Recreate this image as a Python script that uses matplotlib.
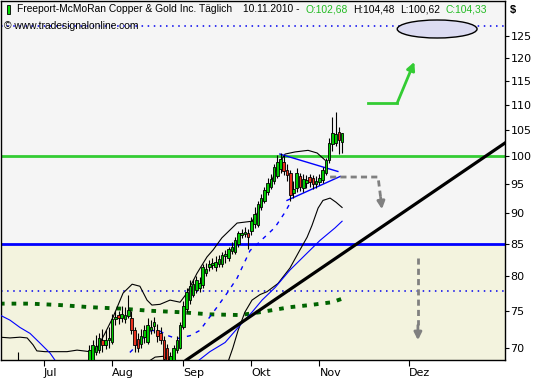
import numpy as np
import matplotlib
matplotlib.use("Agg")
import matplotlib.pyplot as plt
import matplotlib.patches as patches

# ==================== DATA (bar index 0 = 01.07.2010) ====================
bar_idx = list(range(-13, 93))
opens = [64.0, 64.6, 65.3, 64.8, 65.7, 66.6, 67.5, 65.4, 63.5, 62.0, 60.8, 59.5, 59.3,
         58.4, 59.1, 58.9, 61.3, 62.5, 63.6, 63.3, 65.2, 64.6, 62.6, 63.0, 63.8, 64.8, 66.8,
         67.6, 67.5, 69.5, 69.7, 71.0, 70.4, 71.0, 70.8, 73.8, 74.4, 74.0, 73.8, 74.3, 74.0,
         72.3, 71.2, 70.5, 71.4, 70.8, 72.4, 72.9, 72.3, 71.9, 71.0, 70.0, 68.2, 68.0, 69.7,
         70.0, 72.8, 75.3, 76.5, 77.3, 78.0, 78.3, 78.7, 80.5, 81.3, 81.6, 81.4, 81.8, 81.8,
         83.0, 82.8, 83.9, 83.7, 85.0, 86.3, 86.5, 86.7, 87.0, 88.2, 88.0, 91.0, 92.0, 93.5,
         94.5, 95.5, 96.3, 97.7, 99.0, 97.4, 97.0, 93.3, 94.3, 96.3, 94.3, 95.2, 96.2, 96.0,
         95.0, 95.3, 95.6, 96.9, 99.3, 102.3, 102.5, 104.6, 102.68]
highs = [65.2, 66.0, 66.4, 66.1, 67.4, 69.4, 68.0, 66.0, 64.2, 62.9, 61.5, 60.3, 60.0,
         59.6, 60.2, 61.5, 63.0, 64.2, 64.4, 65.8, 66.4, 65.1, 63.8, 64.6, 65.0, 67.2, 68.2,
         70.4, 71.0, 71.7, 72.0, 72.5, 72.3, 72.8, 74.5, 75.0, 75.0, 75.6, 75.5, 77.3, 75.0,
         72.8, 72.0, 72.5, 73.0, 74.0, 73.7, 74.2, 73.2, 72.7, 71.5, 70.5, 69.5, 70.4, 71.5,
         73.5, 76.4, 78.3, 79.4, 79.5, 80.0, 79.8, 81.8, 82.0, 82.5, 82.8, 83.0, 83.2, 83.7,
         84.0, 84.5, 85.3, 86.0, 87.0, 87.3, 87.6, 87.3, 89.3, 91.0, 92.0, 93.2, 94.5, 96.0,
         96.8, 98.6, 100.3, 100.6, 100.2, 98.5, 97.4, 95.5, 97.8, 97.0, 96.8, 96.5, 96.8, 96.5,
         96.3, 96.8, 98.0, 99.6, 103.5, 107.6, 108.5, 105.5, 104.48]
lows = [63.1, 63.8, 64.2, 63.9, 65.0, 66.0, 65.2, 63.0, 61.8, 60.1, 58.9, 57.6, 57.0,
        57.3, 57.8, 58.4, 60.8, 62.0, 62.5, 63.0, 64.3, 62.0, 61.5, 62.4, 62.9, 64.3, 66.2,
        67.0, 67.0, 69.1, 69.3, 69.5, 69.8, 70.0, 70.5, 73.0, 73.2, 73.4, 73.3, 74.0, 71.8,
        69.5, 69.4, 70.0, 70.6, 70.5, 71.8, 72.0, 70.8, 70.5, 68.0, 67.5, 67.4, 67.5, 69.3,
        69.8, 72.5, 74.8, 76.0, 77.0, 77.5, 77.6, 78.3, 80.0, 80.8, 81.0, 80.8, 81.3, 81.3,
        82.0, 82.3, 83.3, 83.4, 84.5, 85.8, 86.0, 84.2, 86.3, 87.5, 87.6, 90.5, 91.6, 93.0,
        94.0, 95.0, 96.0, 97.0, 96.5, 95.5, 92.0, 92.5, 93.5, 93.8, 93.5, 94.2, 94.5, 94.0,
        94.2, 94.8, 95.2, 96.5, 98.8, 101.0, 102.0, 100.5, 100.62]
closes = [64.6, 65.5, 64.9, 65.8, 66.8, 67.9, 65.6, 63.4, 62.3, 60.6, 59.4, 59.1, 58.2,
          59.0, 58.6, 61.2, 62.7, 63.9, 63.1, 65.4, 64.8, 62.4, 63.2, 64.1, 64.6, 66.9, 67.9,
          69.7, 70.4, 70.2, 71.3, 70.4, 71.0, 71.3, 73.8, 74.2, 74.0, 74.6, 74.4, 75.1, 72.3,
          70.4, 70.0, 71.6, 72.4, 73.0, 72.8, 73.4, 71.5, 71.0, 68.6, 68.0, 68.9, 70.0, 71.0,
          73.0, 75.6, 77.7, 78.6, 78.8, 79.4, 79.0, 81.3, 81.0, 81.8, 82.0, 82.2, 82.6, 83.2,
          83.3, 84.1, 84.5, 85.5, 86.6, 86.6, 86.8, 86.1, 88.7, 89.8, 91.5, 92.6, 93.9, 95.2,
          95.8, 98.0, 98.9, 99.5, 97.2, 96.5, 93.0, 94.0, 97.0, 94.5, 95.8, 95.7, 95.4, 95.0,
          95.5, 96.0, 97.4, 99.3, 102.5, 104.4, 104.3, 103.0, 104.33]

# indicators: (bar index, price)
upper_band_x = [-13.6, -10.5, -7.4, -5.2, -3.4, -2.2, 0.3, 7.1, 10.2, 14.2, 16.4, 18.8, 21.3,
                24.4, 27.2, 29.6, 31.8, 33.3, 35.8, 38.9, 42.0, 44.1, 47.2, 50.3, 52.2, 54.9,
                59.6, 64.2, 66.0, 69.1, 72.2, 74.4, 77.5, 81.5, 84.3, 86.7]
upper_band_y = [71.4, 71.3, 71.4, 71.3, 70.4, 69.6, 69.5, 69.5, 69.7, 69.5, 70.0, 71.9, 74.1,
                77.5, 78.8, 78.5, 76.5, 75.8, 75.9, 76.5, 76.2, 77.5, 80.4, 82.9, 84.0, 85.9,
                88.3, 88.6, 90.1, 93.9, 98.3, 100.4, 100.8, 101.1, 100.6, 99.3]
lower_band1_x = [31.0, 32.1, 34.3, 36.7, 39.5, 40.5]
lower_band1_y = [67.5, 68.2, 68.8, 68.9, 68.3, 67.8]
lower_band2_x = [56.3, 58.3, 59.9, 62.0, 64.2, 66.7, 68.8, 72.2, 75.9, 79.0, 81.2, 82.7,
                 84.6, 86.1, 88.3, 90.1, 92.0]
lower_band2_y = [67.6, 70.0, 72.3, 74.8, 76.5, 77.3, 77.7, 78.9, 81.2, 84.0, 86.0, 87.9,
                 90.8, 92.1, 92.5, 91.8, 90.9]
ma_blue1_x = [-13.6, -10.5, -7.4, -4.3, -1.2, 1.9, 3.4, 4.9]
ma_blue1_y = [74.4, 73.7, 72.7, 71.9, 70.6, 69.3, 68.4, 67.4]
ma_blue2_x = [46.6, 47.2, 51.2, 55.9, 60.5, 64.2, 67.3, 71.3, 75.9, 80.6, 85.2, 89.8, 92.0]
ma_blue2_y = [67.8, 68.2, 69.5, 70.7, 73.0, 74.8, 76.5, 78.3, 80.9, 83.2, 85.5, 87.5, 88.6]
dash_blue_x = [26.5, 33.3, 35.8, 38.3, 41.0, 45.1, 48.1, 53.4, 56.5, 59.6, 63.6, 66.0,
               71.3, 74.4, 75.9]
dash_blue_y = [69.4, 72.3, 72.2, 71.6, 71.2, 71.6, 72.3, 75.5, 77.5, 79.7, 83.9, 85.0,
               87.6, 90.1, 91.6]
ma_green_x = [-13.6, -4.3, 4.9, 14.2, 23.5, 32.7, 42.0, 51.2, 60.5, 66.7, 75.9, 82.1, 88.9, 92.0]
ma_green_y = [76.0, 76.0, 75.8, 75.5, 75.3, 75.0, 74.8, 74.5, 74.4, 74.8, 75.5, 75.8, 76.2, 76.7]

# drawing tools
level_green = 100.0
level_blue = 85.0
dotted_levels = [77.74, 127.4]
trend_pts = [(69.8, 76.1), (142.3, 102.5)]
tri_upper = [(72.8, 100.4), (90.7, 97.2)]
tri_lower = [(75.0, 92.1), (91.4, 96.3)]

month_pos = [0, 21, 43, 64, 85, 112.7]
month_lbl = ['Jul', 'Aug', 'Sep', 'Okt', 'Nov', 'Dez']
price_ticks = [70, 75, 80, 85, 90, 95, 100, 105, 110, 115, 120, 125]

W, H = 533, 380


def fpx(x, y):
    return x / W, 1 - y / H


fig = plt.figure(figsize=(W / 100, H / 100), dpi=100)
fig.patch.set_facecolor('white')
ax = fig.add_axes([1 / W, 20 / H, 504 / W, 359 / H])
ax.set_yscale('log')
ax.set_xlim(-13.27, 142.28)
ax.set_ylim(68.43, 133.5)
ax.set_facecolor('#F5F5F5')
ax.axhspan(60, level_blue, color='#F3F3DE', zorder=0)

# horizontal levels
for lv in dotted_levels:
    ax.axhline(lv, color='#0000EE', lw=1.1, ls=(0, (1, 3)), zorder=1)
ax.axhline(level_green, color='#33CC33', lw=2, zorder=2)
ax.axhline(level_blue, color='#0000FF', lw=2, zorder=2)

# indicators
ax.plot(ma_green_x, ma_green_y, color='#006400', lw=2.8, ls=(0, (1.2, 1.8)), zorder=2)
ax.plot(upper_band_x, upper_band_y, color='black', lw=0.8, zorder=3)
ax.plot(lower_band1_x, lower_band1_y, color='black', lw=0.8, zorder=3)
ax.plot(lower_band2_x, lower_band2_y, color='black', lw=0.8, zorder=3)
ax.plot(ma_blue1_x, ma_blue1_y, color='#0000FF', lw=0.8, zorder=3)
ax.plot(ma_blue2_x, ma_blue2_y, color='#0000FF', lw=0.8, zorder=3)
ax.plot(dash_blue_x, dash_blue_y, color='#0000FF', lw=1, ls=(0, (3, 4)), zorder=3)

# triangle + trend line
ax.plot(*zip(*tri_upper), color='#0000FF', lw=1, zorder=4)
ax.plot(*zip(*tri_lower), color='#0000FF', lw=1, zorder=4)
ax.axline(trend_pts[0], trend_pts[1], color='black', lw=2.3, zorder=4)

# candles
o = np.array(opens)
c = np.array(closes)
x = np.array(bar_idx)
up = c >= o
ax.vlines(x, lows, highs, color='black', lw=0.8, zorder=5)
ax.bar(x[up], (c - o)[up], bottom=o[up], width=0.8, color='#00CC00',
       edgecolor='black', lw=0.6, zorder=6)
ax.bar(x[~up], (o - c)[~up], bottom=c[~up], width=0.8, color='#E8321E',
       edgecolor='black', lw=0.6, zorder=6)

# arrows
gray = '#808080'
ax.plot([88.3, 103.1, 103.9], [96.2, 96.2, 92.6], color=gray, lw=2, ls=(0, (2.2, 1.5)), zorder=4)
ax.annotate('', xy=(104.3, 90.6), xytext=(103.9, 92.6),
            arrowprops=dict(arrowstyle='-|>', color=gray, lw=2, mutation_scale=11,
                            shrinkA=0, shrinkB=0), zorder=4)
ax.plot([115.4, 115.4], [82.7, 73.0], color=gray, lw=2, ls=(0, (2.2, 1.5)), zorder=4)
ax.annotate('', xy=(115.4, 71.0), xytext=(115.4, 73.0),
            arrowprops=dict(arrowstyle='-|>', color=gray, lw=2, mutation_scale=11,
                            shrinkA=0, shrinkB=0), zorder=4)
ax.plot([100.0, 109.0], [110.4, 110.4], color='#33CC33', lw=2, zorder=4)
ax.annotate('', xy=(114.3, 119.2), xytext=(109.0, 110.4),
            arrowprops=dict(arrowstyle='-|>', color='#33CC33', lw=2, mutation_scale=12,
                            shrinkA=0, shrinkB=0), zorder=4)

# ellipse
ax.add_patch(patches.Ellipse((437 / 505, 1 - 28 / 359), 80 / 505, 18 / 359,
                             transform=ax.transAxes, facecolor='#DCDCF2',
                             edgecolor='black', lw=1, zorder=7))

# axes styling
for sp in ax.spines.values():
    sp.set_color('black')
    sp.set_linewidth(1)
ax.yaxis.tick_right()
ax.set_yticks(price_ticks)
ax.set_yticklabels([str(t) for t in price_ticks])
ax.yaxis.set_minor_locator(matplotlib.ticker.NullLocator())
ax.tick_params(axis='y', length=3, width=0.8, pad=1, labelsize=8, colors='black')
ax.set_xticks(month_pos)
ax.set_xticklabels(month_lbl)
ax.tick_params(axis='x', length=4, width=0.8, pad=2, labelsize=8)
for lbl in ax.get_xticklabels():
    lbl.set_horizontalalignment('left')

# header
hfont = dict(family='Liberation Sans', fontsize=7.4, va='center')
fig.add_artist(patches.Rectangle(fpx(6.5, 14), 3 / W, 9 / H, facecolor='#00DD00',
                                 edgecolor='black', lw=0.6))
fig.text(*fpx(17, 9), 'Freeport-McMoRan Copper & Gold Inc. Täglich', color='black', **hfont)
fig.text(*fpx(243, 9), '10.11.2010 -', color='black', **hfont)
fig.text(*fpx(306, 9), 'O:102,68', color='#22BB22', **hfont)
fig.text(*fpx(353, 9), 'H:104,48', color='black', **hfont)
fig.text(*fpx(400, 9), 'L:100,62', color='black', **hfont)
fig.text(*fpx(445, 9), 'C:104,33', color='#22BB22', **hfont)
fig.text(*fpx(4, 26), '© www.tradesignalonline.com', color='black', **hfont)
fig.text(*fpx(510, 10), '$', color='black', family='Liberation Sans', fontsize=8,
         fontweight='bold', va='center')

fig.savefig('out.png', dpi=100)
